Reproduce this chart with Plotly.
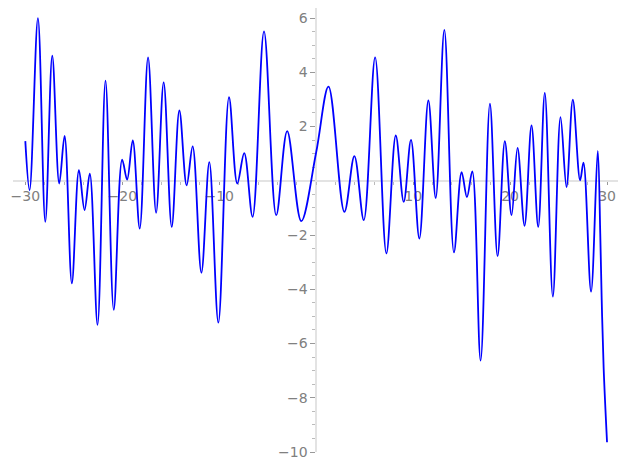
import plotly.graph_objects as go

# Points (extrema and a few intermediate points)
x_vals = [-30.0, -29.56, -28.70, -27.94, -27.22, -26.50, -25.95, -25.20, -24.47, -23.89,
          -23.35, -22.55, -21.73, -20.88, -20.01, -19.50, -18.92, -18.20, -17.34, -16.51,
          -15.73, -14.90, -14.11, -13.36, -12.74, -11.84, -11.02, -10.09, -8.99, -8.14,
          -7.42, -6.56, -5.38, -4.12, -2.99, -1.54, 0.0, 1.27, 2.91, 3.94, 4.91, 6.08,
          7.24, 8.21, 9.03, 9.78, 10.64, 11.57, 12.33, 13.22, 14.21, 15.00, 15.55, 16.10,
          16.96, 17.92, 18.71, 19.46, 20.15, 20.77, 21.49, 22.21, 22.90, 23.58, 24.41,
          25.20, 25.82, 26.47, 27.22, 27.57, 28.35, 29.04, 29.30, 29.45, 29.65, 30.0]
y_vals = [1.46, -0.35, 6.0, -1.51, 4.61, -0.10, 1.65, -3.78, 0.39, -1.08,
          0.26, -5.31, 3.69, -4.76, 0.78, 0.04, 1.49, -1.76, 4.55, -1.18,
          3.63, -1.70, 2.59, -0.17, 1.27, -3.39, 0.69, -5.23, 3.08, -0.10,
          1.02, -1.33, 5.51, -1.27, 1.83, -1.49, 1.05, 3.47, -1.15, 0.91, -1.45, 4.55,
          -2.68, 1.67, -0.78, 1.51, -2.13, 2.96, -0.63, 5.56, -2.64, 0.32, -0.60, 0.35,
          -6.63, 2.84, -2.78, 1.46, -1.27, 1.21, -1.66, 2.04, -1.70, 3.24, -4.27,
          2.35, -0.23, 2.99, 0.02, 0.67, -4.09, 1.10, -1.95, -4.40, -6.90, -9.64]

x_tick_vals = [-30, -20, -10, 10, 20, 30]
x_tick_text = ["−30", "−20", "−10", "10", "20", "30"]
y_tick_vals = [-10, -8, -6, -4, -2, 2, 4, 6]
y_tick_text = ["−10", "−8", "−6", "−4", "−2", "2", "4", "6"]

x_range = [-31.27, 31.13]
y_range = [-10.0, 6.37]

fig = go.Figure()
fig.add_trace(go.Scatter(x=x_vals, y=y_vals, mode="lines",
                         line=dict(color="#0000ff", width=1.8, shape="spline", smoothing=1),
                         showlegend=False, hoverinfo="skip"))

tick_font = dict(family="DejaVu Sans", size=14, color="#808080")

fig.update_layout(
    width=627, height=469,
    margin=dict(l=5, r=17, t=0, b=25, autoexpand=False),
    paper_bgcolor="white", plot_bgcolor="white",
    xaxis=dict(range=x_range, showgrid=False, zeroline=False, automargin=False,
               anchor="free", position=(0 - y_range[0]) / (y_range[1] - y_range[0]),
               showline=True, linecolor="#e3e3e3", linewidth=1.5,
               tickmode="array", tickvals=x_tick_vals, ticktext=x_tick_text,
               ticks="outside", ticklen=3, tickcolor="#999999", tickwidth=1,
               tickfont=tick_font, layer="below traces",
               minor=dict(dtick=2, tick0=0, ticks="outside", ticklen=3,
                          tickcolor="#bbbbbb", tickwidth=1, showgrid=False)),
    yaxis=dict(range=y_range, showgrid=False, zeroline=False, automargin=False,
               anchor="free", position=(0 - x_range[0]) / (x_range[1] - x_range[0]),
               showline=True, linecolor="#e3e3e3", linewidth=1.5,
               tickmode="array", tickvals=y_tick_vals, ticktext=y_tick_text,
               ticks="outside", ticklen=5, tickcolor="#999999", tickwidth=1,
               tickfont=tick_font, layer="below traces",
               minor=dict(dtick=0.5, tick0=0, ticks="outside", ticklen=3,
                          tickcolor="#bbbbbb", tickwidth=1, showgrid=False)),
)

fig.write_html("out.html")
